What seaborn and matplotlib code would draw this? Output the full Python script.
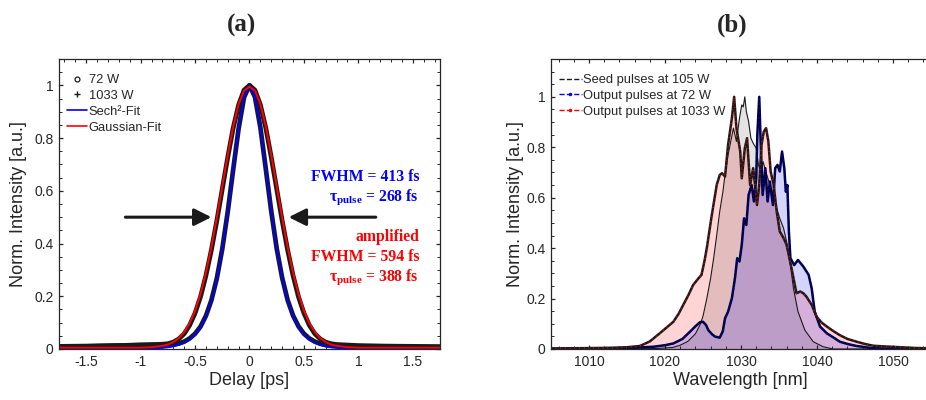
import seaborn as sns
import matplotlib.pyplot as plt
from matplotlib import font_manager
from matplotlib.lines import Line2D
from matplotlib.ticker import MultipleLocator, FuncFormatter

# ---- (a) autocorrelation traces ----
delay = [-1.75, -1.5, -1.25, -1.0, -0.9, -0.8, -0.75, -0.7, -0.65, -0.6, -0.55, -0.5, -0.45,
         -0.4, -0.35, -0.3, -0.25, -0.2, -0.15, -0.1, -0.05, 0.0, 0.05, 0.1, 0.15, 0.2, 0.25,
         0.3, 0.35, 0.4, 0.45, 0.5, 0.55, 0.6, 0.65, 0.7, 0.75, 0.8, 0.9, 1.0, 1.25, 1.5, 1.75]
data_72 = [0.010, 0.011, 0.013, 0.014, 0.013, 0.013, 0.014, 0.017, 0.021, 0.028, 0.040, 0.058,
           0.085, 0.126, 0.185, 0.268, 0.380, 0.520, 0.680, 0.836, 0.955, 1.0, 0.956, 0.840,
           0.682, 0.522, 0.381, 0.270, 0.186, 0.127, 0.086, 0.058, 0.040, 0.028, 0.020, 0.015,
           0.012, 0.011, 0.010, 0.009, 0.008, 0.008, 0.007]
data_1033 = [0.009, 0.010, 0.012, 0.016, 0.017, 0.018, 0.020, 0.026, 0.038, 0.058, 0.090, 0.136,
             0.198, 0.279, 0.376, 0.487, 0.607, 0.727, 0.838, 0.926, 0.982, 1.0, 0.982, 0.926,
             0.838, 0.727, 0.607, 0.487, 0.376, 0.279, 0.198, 0.136, 0.090, 0.058, 0.038, 0.026,
             0.020, 0.017, 0.015, 0.013, 0.011, 0.010, 0.009]
sech_fit = [0.0, 0.0, 0.0001, 0.0008, 0.0018, 0.0043, 0.0066, 0.0101, 0.0155, 0.0236, 0.0362,
            0.0545, 0.0823, 0.124, 0.183, 0.267, 0.379, 0.520, 0.681, 0.838, 0.956, 1.0, 0.956,
            0.838, 0.681, 0.520, 0.379, 0.267, 0.183, 0.124, 0.0823, 0.0545, 0.0362, 0.0236,
            0.0155, 0.0101, 0.0066, 0.0043, 0.0018, 0.0008, 0.0001, 0.0, 0.0]
gauss_fit = [0.005, 0.005, 0.005, 0.005, 0.007, 0.012, 0.017, 0.026, 0.041, 0.064, 0.098, 0.145,
             0.209, 0.290, 0.387, 0.498, 0.617, 0.735, 0.843, 0.929, 0.980, 0.995, 0.980, 0.929,
             0.843, 0.735, 0.617, 0.498, 0.387, 0.290, 0.209, 0.145, 0.098, 0.064, 0.041, 0.026,
             0.017, 0.012, 0.007, 0.005, 0.005, 0.005, 0.005]

# ---- (b) spectra ----
wl_seed = [1005, 1015, 1019, 1021, 1022, 1023, 1024, 1024.6, 1025.0, 1025.5, 1026.0, 1026.4,
           1026.8, 1027.2, 1027.6, 1027.9, 1028.3, 1028.7, 1029.0, 1029.4, 1029.8, 1030.1,
           1030.3, 1030.5, 1030.7, 1031.0, 1031.3, 1031.6, 1032.0, 1032.3, 1032.6, 1032.9,
           1033.4, 1033.8, 1034.3, 1034.7, 1035.1, 1035.6, 1036.0, 1036.5, 1036.9, 1037.5,
           1038.4, 1039.5, 1040.8, 1042.1, 1045, 1055]
seed = [0.0, 0.0, 0.002, 0.006, 0.015, 0.03, 0.06, 0.095, 0.13, 0.2, 0.28, 0.36, 0.45, 0.545,
        0.62, 0.69, 0.77, 0.83, 0.876, 0.823, 0.915, 0.968, 0.96, 1.0, 0.942, 0.902, 0.836,
        0.816, 0.796, 0.73, 0.704, 0.743, 0.69, 0.65, 0.598, 0.558, 0.518, 0.479, 0.426, 0.333,
        0.241, 0.148, 0.075, 0.029, 0.009, 0.0, 0.0, 0.0]

wl_72 = [1005, 1010, 1014, 1016, 1018.5, 1020, 1021.1, 1022.3, 1023.3, 1024.0, 1024.6, 1025.0,
         1025.4, 1025.7, 1026.2, 1026.6, 1027.2, 1027.6, 1027.9, 1028.3, 1028.8, 1029.2, 1029.5,
         1029.8, 1030.1, 1030.4, 1030.7, 1031.0, 1031.4, 1031.7, 1032.0, 1032.15, 1032.4, 1032.6,
         1032.85, 1033.2, 1033.5, 1033.8, 1034.2, 1034.5, 1034.8, 1035.1, 1035.4, 1035.7, 1035.9,
         1036.1, 1036.3, 1036.5, 1037.0, 1037.5, 1038.2, 1038.9, 1039.3, 1039.7, 1040.4, 1041.3,
         1042.2, 1043.0, 1044.0, 1045.2, 1047.4, 1050, 1055]
out_72 = [0.001, 0.002, 0.003, 0.005, 0.009, 0.015, 0.022, 0.04, 0.069, 0.09, 0.106, 0.108,
          0.095, 0.075, 0.058, 0.049, 0.045, 0.07, 0.122, 0.148, 0.201, 0.28, 0.36, 0.347, 0.413,
          0.518, 0.492, 0.611, 0.65, 0.585, 0.677, 0.849, 1.0, 0.81, 0.611, 0.717, 0.585, 0.664,
          0.571, 0.717, 0.73, 0.704, 0.783, 0.717, 0.624, 0.65, 0.466, 0.36, 0.333, 0.353, 0.327,
          0.294, 0.241, 0.148, 0.089, 0.062, 0.045, 0.029, 0.02, 0.012, 0.003, 0.001, 0.0]

wl_1033 = [1005, 1008, 1011, 1013, 1015, 1016.7, 1018, 1019.3, 1020.2, 1021.1, 1021.8, 1022.4,
           1023.1, 1023.7, 1024.4, 1024.8, 1025.2, 1025.5, 1026.1, 1026.8, 1027.2, 1027.5,
           1027.9, 1028.3, 1028.8, 1029.1, 1029.4, 1029.9, 1030.1, 1030.5, 1030.8, 1031.2,
           1031.6, 1031.9, 1032.1, 1032.4, 1032.7, 1033.0, 1033.3, 1033.6, 1033.9, 1034.3,
           1034.7, 1035.1, 1035.6, 1036.0, 1036.7, 1037.3, 1037.8, 1038.2, 1038.6, 1039.3,
           1039.95, 1040.6, 1041.3, 1042.2, 1043.0, 1044.0, 1045.2, 1046.3, 1047.4, 1049, 1051,
           1053, 1055]
out_1033 = [0.002, 0.003, 0.004, 0.005, 0.007, 0.012, 0.03, 0.062, 0.085, 0.108, 0.14, 0.175,
            0.215, 0.254, 0.28, 0.294, 0.35, 0.40, 0.52, 0.65, 0.69, 0.697, 0.684, 0.81, 0.915,
            1.0, 0.876, 0.783, 0.677, 0.796, 0.836, 0.65, 0.717, 0.637, 0.571, 0.65, 0.81, 0.862,
            0.876, 0.823, 0.704, 0.65, 0.545, 0.466, 0.44, 0.413, 0.313, 0.221, 0.228, 0.221,
            0.208, 0.175, 0.128, 0.105, 0.089, 0.07, 0.055, 0.04, 0.029, 0.02, 0.013, 0.01, 0.007,
            0.004, 0.003]

sns.set_theme(style="ticks")
available = {f.name for f in font_manager.fontManager.ttflist}
narrow = "Liberation Sans Narrow" in available
sans = "Liberation Sans Narrow" if narrow else "Liberation Sans"
fs_tick, fs_label, fs_leg = (11.5, 16, 10.5) if narrow else (10, 13, 9.3)
plt.rcParams["font.family"] = [sans, "DejaVu Sans"]
plt.rcParams["axes.unicode_minus"] = False
plt.rcParams["mathtext.fontset"] = "custom"
plt.rcParams["mathtext.bf"] = "Liberation Serif:bold"
plt.rcParams["mathtext.rm"] = "Liberation Serif:bold"
plt.rcParams["mathtext.it"] = "Liberation Serif:bold"

fig = plt.figure(figsize=(9.26, 4.0), dpi=100)
ax1 = fig.add_axes([59 / 926, 0.1275, 381 / 926, 0.725])
ax2 = fig.add_axes([551 / 926, 0.1275, 380 / 926, 0.725])

fmt = FuncFormatter(lambda v, p: f"{v:g}")
for ax in (ax1, ax2):
    for s in ax.spines.values():
        s.set_color("#262626")
        s.set_linewidth(0.9)
    ax.tick_params(which="both", direction="in", top=True, right=True, color="#262626",
                   labelsize=fs_tick, labelcolor="#262626", pad=4)
    ax.tick_params(which="major", length=3.2, width=0.9)
    ax.tick_params(which="minor", length=1.9, width=0.7)
    ax.yaxis.set_major_locator(MultipleLocator(0.2))
    ax.yaxis.set_minor_locator(MultipleLocator(0.05))
    ax.xaxis.set_major_formatter(fmt)
    ax.yaxis.set_major_formatter(fmt)

# panel (a)
sns.lineplot(x=delay, y=data_72, ax=ax1, color="k", lw=3.4, sort=False, estimator=None)
sns.lineplot(x=delay, y=data_1033, ax=ax1, color="k", lw=3.4, sort=False, estimator=None)
sns.lineplot(x=delay, y=sech_fit, ax=ax1, color="#0000ff", lw=1.4, sort=False, estimator=None)
sns.lineplot(x=delay, y=gauss_fit, ax=ax1, color="#ff0000", lw=1.4, sort=False, estimator=None)
ax1.set_xlim(-1.75, 1.75)
ax1.set_ylim(0, 1.1)
ax1.xaxis.set_major_locator(MultipleLocator(0.5))
ax1.xaxis.set_minor_locator(MultipleLocator(0.1))
ax1.set_xlabel("Delay [ps]", fontsize=fs_label, color="#262626")
ax1.set_ylabel("Norm. Intensity [a.u.]", fontsize=fs_label, color="#262626")
ax1.xaxis.set_label_coords(0.5, -0.08)
ax1.yaxis.set_label_coords(-0.084, 0.5)

h1 = [Line2D([], [], ls="none", marker="o", mfc="none", mec="k", ms=3.5, mew=0.9),
      Line2D([], [], ls="none", marker="+", color="k", ms=4, mew=1),
      Line2D([], [], color="#0000ff", lw=1.2),
      Line2D([], [], color="#ff0000", lw=1.2)]
ax1.legend(h1, ["72 W", "1033 W", "Sech²-Fit", "Gaussian-Fit"], loc="upper left",
           bbox_to_anchor=(0.0, 0.975), frameon=False, fontsize=fs_leg, handlelength=1.6,
           handletextpad=0.1, labelspacing=0.3, borderaxespad=0.2)

serif = dict(family="Liberation Serif", weight="bold", fontsize=11.3, ha="right", va="center",
             transform=ax1.transAxes)
ax1.text(0.945, 0.593, "FWHM = 413 fs", color="#0000ff", **serif)
ax1.text(0.945, 0.524, r"$\mathbf{\tau}_{\mathbf{pulse}}$ = 268 fs", color="#0000ff", **serif)
ax1.text(0.945, 0.386, "amplified", color="#ff0000", **serif)
ax1.text(0.945, 0.317, "FWHM = 594 fs", color="#ff0000", **serif)
ax1.text(0.945, 0.248, r"$\mathbf{\tau}_{\mathbf{pulse}}$ = 388 fs", color="#ff0000", **serif)

arrow = dict(arrowstyle="-|>", color="k", lw=2.2, mutation_scale=26, shrinkA=0, shrinkB=0)
ax1.annotate("", xy=(-0.35, 0.5), xytext=(-1.14, 0.5), arrowprops=arrow)
ax1.annotate("", xy=(0.36, 0.5), xytext=(1.16, 0.5), arrowprops=arrow)

# panel (b)
ax2.fill_between(wl_1033, out_1033, color="#ff0000", alpha=0.17, lw=0)
ax2.fill_between(wl_seed, seed, color="k", alpha=0.12, lw=0)
ax2.fill_between(wl_72, out_72, color="#0000ff", alpha=0.17, lw=0)
sns.lineplot(x=wl_seed, y=seed, ax=ax2, color="k", lw=0.8, sort=False, estimator=None)
sns.lineplot(x=wl_72, y=out_72, ax=ax2, color="#00003a", lw=1.8, sort=False, estimator=None)
ax2.plot(wl_72, out_72, color="#0000ff", lw=1.3, ls=(0, (0.4, 2.2)))
sns.lineplot(x=wl_1033, y=out_1033, ax=ax2, color="k", lw=1.8, sort=False, estimator=None)
ax2.plot(wl_1033, out_1033, color="#ff0000", lw=1.3, ls=(0, (0.4, 2.2)))
ax2.set_xlim(1005, 1055)
ax2.set_ylim(0, 1.15)
ax2.xaxis.set_major_locator(MultipleLocator(10))
ax2.xaxis.set_minor_locator(MultipleLocator(2))
ax2.set_xlabel("Wavelength [nm]", fontsize=fs_label, color="#262626")
ax2.set_ylabel("Norm. Intensity [a.u.]", fontsize=fs_label, color="#262626")
ax2.xaxis.set_label_coords(0.497, -0.08)
ax2.yaxis.set_label_coords(-0.072, 0.5)

h2 = [Line2D([], [], color="k", ls="--", lw=1),
      Line2D([], [], color="#0000ff", ls="--", lw=1, marker=".", ms=3),
      Line2D([], [], color="#ff0000", ls="--", lw=1, marker=".", ms=3)]
ax2.legend(h2, ["Seed pulses at 105 W", "Output pulses at 72 W", "Output pulses at 1033 W"],
           loc="upper left", bbox_to_anchor=(0.0, 0.975), frameon=False, fontsize=fs_leg,
           handlelength=1.8, handletextpad=0.1, labelspacing=0.3, borderaxespad=0.2)

title = dict(family="Liberation Serif", weight="bold", fontsize=18, ha="center", va="center")
fig.text(242 / 926, 1 - 25 / 400, "(a)", **title)
fig.text(732 / 926, 1 - 25 / 400, "(b)", **title)

fig.savefig("out.png", dpi=100)
